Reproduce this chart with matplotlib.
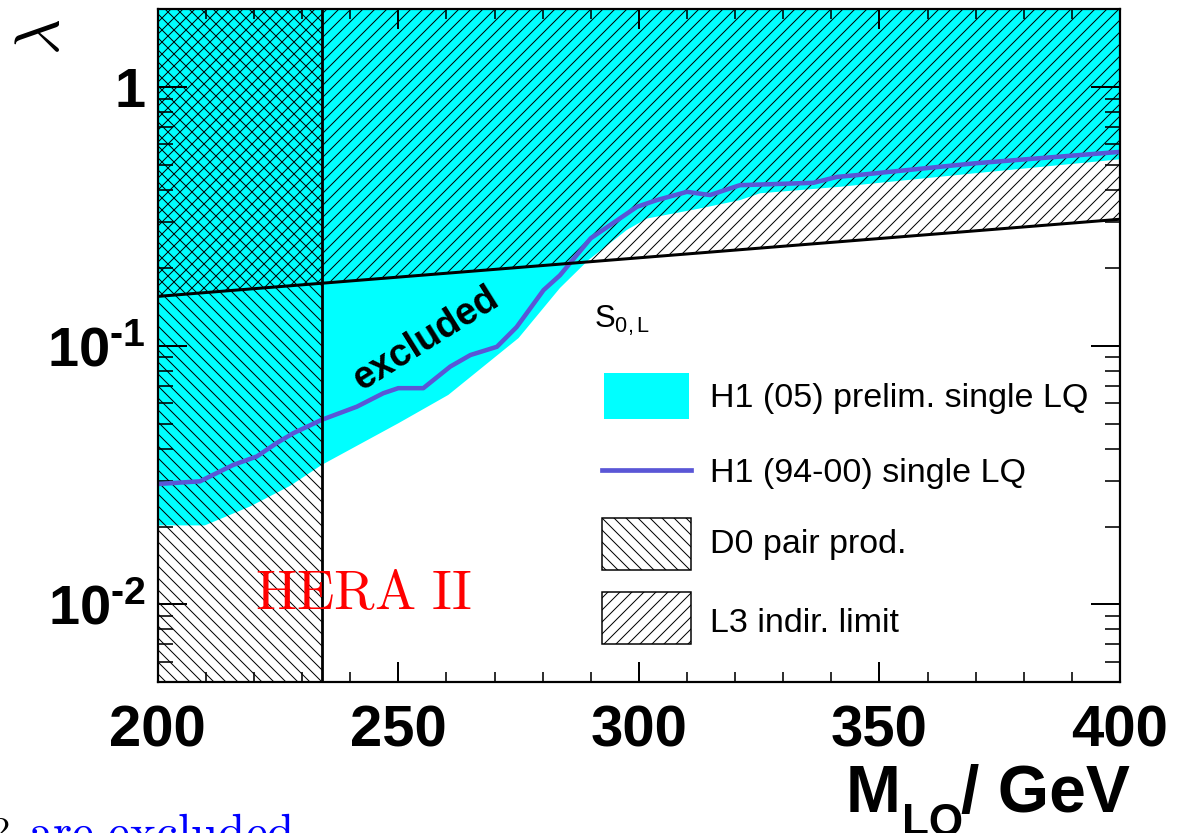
import numpy as np
import matplotlib
matplotlib.use('Agg')
import matplotlib.pyplot as plt
from matplotlib.patches import Rectangle
from matplotlib.lines import Line2D
from matplotlib.ticker import FixedLocator, FixedFormatter, LogLocator, NullFormatter, MultipleLocator

plt.rcParams['font.family'] = ['Liberation Sans', 'DejaVu Sans']
plt.rcParams['mathtext.fontset'] = 'custom'
plt.rcParams['mathtext.rm'] = 'Liberation Sans:bold'
plt.rcParams['mathtext.bf'] = 'Liberation Sans:bold'
plt.rcParams['mathtext.it'] = 'Liberation Sans:bold'
plt.rcParams['mathtext.sf'] = 'Liberation Sans'
plt.rcParams['hatch.linewidth'] = 1.0

# ---------------- data ----------------
x_range = [200, 400]
y_range = [0.005, 2.0]

# H1 (05) preliminary single LQ: lower edge of excluded (cyan) region
m_h1_05 = [200.0, 209.8, 219.2, 227.5, 234.1, 250.0, 260.4, 275.0, 283.6, 289.5,
           297.5, 301.7, 312.7, 321.0, 325.2, 341.8, 369.5, 400.0]
lam_h1_05 = [0.0202, 0.0202, 0.0239, 0.0287, 0.0346, 0.0501, 0.0645, 0.107, 0.167, 0.214,
             0.280, 0.310, 0.339, 0.365, 0.388, 0.411, 0.463, 0.525]

# H1 (94-00) single LQ limit
m_h1_9400 = [200.0, 208.8, 212.3, 215.7, 220.6, 224.7, 228.2, 234.1, 241.4, 246.9,
             250.0, 255.2, 260.8, 265.0, 270.5, 274.6, 280.2, 283.6, 290.0, 299.6,
             303.7, 310.0, 314.8, 321.0, 336.3, 341.2, 345.3, 369.5, 400.0]
lam_h1_9400 = [0.0292, 0.0299, 0.0322, 0.0346, 0.0373, 0.0420, 0.0459, 0.0517, 0.0581, 0.0655,
               0.0685, 0.0685, 0.083, 0.092, 0.099, 0.118, 0.164, 0.187, 0.260, 0.344,
               0.365, 0.393, 0.382, 0.417, 0.426, 0.449, 0.456, 0.506, 0.561]

# L3 indirect limit (excluded above)
m_l3 = [200.0, 400.0]
lam_l3 = [0.155, 0.308]

# D0 pair production mass limit (excluded below)
m_d0 = 234.1

x_ticks = [200, 250, 300, 350, 400]
x_tick_labels = ['200', '250', '300', '350', '400']
y_ticks = [0.01, 0.1, 1.0]
y_tick_labels = [r'$10^{\text{-}2}$', r'$10^{\text{-}1}$', '1']
legend_labels = ['H1 (05) prelim. single LQ', 'H1 (94-00) single LQ',
                 'D0 pair prod.', 'L3 indir. limit']

# ---------------- figure ----------------
W, H = 1198, 833
DPI = 72
fig = plt.figure(figsize=(W / DPI, H / DPI), dpi=DPI)
fig.patch.set_facecolor('white')

ax_l, ax_r, ax_t, ax_b = 157.7, 1120.0, 9.0, 682.3
ax = fig.add_axes([ax_l / W, 1 - ax_b / H, (ax_r - ax_l) / W, (ax_b - ax_t) / H])
ax.set_yscale('log')
ax.set_xlim(*x_range)
ax.set_ylim(*y_range)

CYAN = '#00ffff'
BLUE = '#5a56d6'
HATCH_D0 = '\\\\'
HATCH_L3 = '//'

# H1 (05) excluded region
ax.fill_between(m_h1_05, lam_h1_05, y_range[1], facecolor=CYAN, edgecolor='none',
                linewidth=0, zorder=1)
# D0 pair production region
ax.fill_between([x_range[0], m_d0], y_range[0], y_range[1], facecolor='none',
                edgecolor='black', hatch=HATCH_D0, linewidth=0, zorder=2)
# L3 region
ax.fill_between(m_l3, lam_l3, y_range[1], facecolor='none', edgecolor='black',
                hatch=HATCH_L3, linewidth=0, zorder=2)
# H1 (94-00) line
ax.plot(m_h1_9400, lam_h1_9400, color=BLUE, lw=4.5, zorder=3, solid_capstyle='butt')
# boundaries
ax.plot(m_l3, lam_l3, color='black', lw=3, zorder=4)
ax.plot([m_d0, m_d0], y_range, color='black', lw=2.8, zorder=4)

# ticks
ax.xaxis.set_major_locator(FixedLocator(x_ticks))
ax.xaxis.set_major_formatter(FixedFormatter(x_tick_labels))
ax.xaxis.set_minor_locator(MultipleLocator(10))
ax.yaxis.set_major_locator(FixedLocator(y_ticks))
ax.yaxis.set_major_formatter(FixedFormatter(y_tick_labels))
ax.yaxis.set_minor_locator(LogLocator(base=10, subs=np.arange(2, 10)))
ax.yaxis.set_minor_formatter(NullFormatter())

ax.xaxis.set_tick_params(which='major', direction='in', length=20, width=2, top=True,
                         bottom=True, pad=22, labelsize=58)
ax.xaxis.set_tick_params(which='minor', direction='in', length=10, width=1.6, top=True,
                         bottom=True)
ax.yaxis.set_tick_params(which='major', direction='in', length=29, width=2, left=True,
                         right=True, pad=12, labelsize=56)
ax.yaxis.set_tick_params(which='minor', direction='in', length=15, width=1.6, left=True,
                         right=True)
for lbl in ax.get_xticklabels() + ax.get_yticklabels():
    lbl.set_fontweight('bold')
for s in ax.spines.values():
    s.set_linewidth(2.2)
    s.set_zorder(6)

# ---------------- overlay (pixel coordinates) ----------------
ov = fig.add_axes([0, 0, 1, 1], zorder=10)
ov.set_xlim(0, W)
ov.set_ylim(H, 0)
ov.axis('off')
ov.patch.set_alpha(0)

ov.text(426, 339, 'excluded', rotation=32, rotation_mode='anchor', ha='center',
        va='center', fontsize=38, fontweight='bold', color='black')
ov.text(255, 609, r'$\mathrm{HERA\ II}$', color='red', fontsize=55,
        math_fontfamily='cm', va='baseline', ha='left')
ov.text(43, 37, r'$\lambda$', rotation=90, ha='center', va='center', fontsize=62,
        math_fontfamily='cm')
ov.text(28, 848, r'$\mathrm{are\ excluded}$', color='blue', fontsize=49,
        math_fontfamily='cm', va='baseline', ha='left')
ov.text(9, 816, r'$\mathrm{2}$', color='black', fontsize=34, math_fontfamily='cm',
        va='top', ha='right')

# x-axis title built from pieces: M, subscript LQ, "/ GeV"
fig.canvas.draw()
renderer = fig.canvas.get_renderer()
inv = ov.transData.inverted()
x0 = 846
t_m = ov.text(x0, 812, 'M', fontsize=66, fontweight='bold', va='baseline', ha='left')
bb = t_m.get_window_extent(renderer)
x1 = inv.transform((bb.x1, 0))[0]
t_lq = ov.text(x1 + 1, 835, 'LQ', fontsize=44, fontweight='bold', va='baseline', ha='left')
bb = t_lq.get_window_extent(renderer)
x2 = inv.transform((bb.x1, 0))[0]
ov.text(x2 - 2, 812, '/ GeV', fontsize=66, fontweight='bold', va='baseline', ha='left')

# legend
ov.text(594, 328, r'$\mathsf{S_{0,L}}$', fontsize=31, va='baseline', ha='left')
ov.add_patch(Rectangle((603.6, 373.3), 85, 46, facecolor=CYAN, edgecolor='none'))
ov.add_line(Line2D([602, 691], [470, 470], color=BLUE, lw=4.7))
ov.add_patch(Rectangle((602, 518.3), 89, 51.7, facecolor='white', edgecolor='black',
                       hatch=HATCH_D0, lw=1.5))
ov.add_patch(Rectangle((602, 592), 89, 52, facecolor='white', edgecolor='black',
                       hatch=HATCH_L3, lw=1.5))
for txt, yb in zip(legend_labels, [407.3, 481.7, 553.0, 632.0]):
    ov.text(710, yb, txt, fontsize=34, va='baseline', ha='left')

fig.savefig('out.png', dpi=DPI)
